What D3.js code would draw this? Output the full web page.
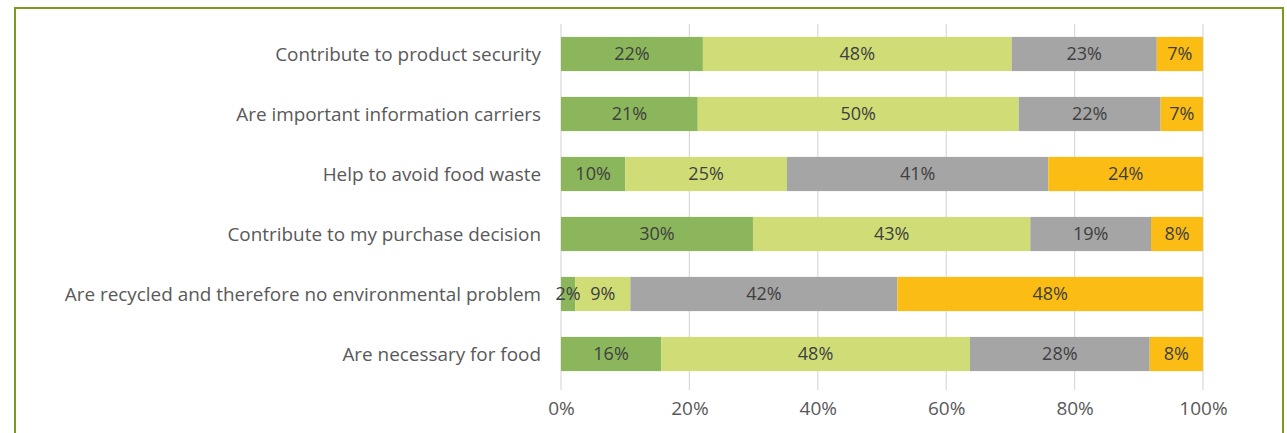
<!DOCTYPE html>
<html><head><meta charset="utf-8">
<script src="https://cdn.jsdelivr.net/npm/d3@7"></script>
<style>html,body{margin:0;padding:0;background:#fff;}svg{display:block;}</style>
</head><body>
<svg id="c" width="1287" height="433"></svg>
<script>
const categories = [
  "Contribute to product security",
  "Are important information carriers",
  "Help to avoid food waste",
  "Contribute to my purchase decision",
  "Are recycled and therefore no environmental problem",
  "Are necessary for food"
];
const seriesNames = ["s1", "s2", "s3", "s4"];
const s1 = [22.1, 21.3, 10.0, 29.9, 2.2, 15.6];
const s2 = [48.1, 50.0, 25.2, 43.2, 8.6, 48.1];
const s3 = [22.6, 22.1, 40.7, 18.8, 41.6, 28.0];
const s4 = [7.2, 6.6, 24.1, 8.1, 47.6, 8.3];
const labels1 = ["22%", "21%", "10%", "30%", "2%", "16%"];
const labels2 = ["48%", "50%", "25%", "43%", "9%", "48%"];
const labels3 = ["23%", "22%", "41%", "19%", "42%", "28%"];
const labels4 = ["7%", "7%", "24%", "8%", "48%", "8%"];
const tickValues = [0, 20, 40, 60, 80, 100];
const tickLabels = ["0%", "20%", "40%", "60%", "80%", "100%"];
const colors = ["#8bb65c", "#d0dd76", "#a5a5a5", "#fbbd14"];

const svg = d3.select("#c");
const font = "'Open Sans', sans-serif";

// border
svg.append("path").attr("d", "M15,434 V8 H1283 V434")
  .attr("fill", "none").attr("stroke", "#7b9a22").attr("stroke-width", 2);

const x = d3.scaleLinear().domain([0, 100]).range([561, 1203]);
const y = d3.scaleBand().domain(categories).range([24, 384]).paddingInner(0.43).paddingOuter(0.215);

// gridlines
svg.append("g").selectAll("line").data(tickValues).join("line")
  .attr("x1", d => x(d)).attr("x2", d => x(d))
  .attr("y1", 24).attr("y2", 390)
  .attr("stroke", "#d9d9d9").attr("stroke-width", 1.2);

const vals = [s1, s2, s3, s4];
const labs = [labels1, labels2, labels3, labels4];
const rows = categories.map((c, i) => {
  let acc = 0;
  return vals.map((v, k) => { const o = {cat: c, k, x0: acc, x1: acc + v[i], label: labs[k][i]}; acc += v[i]; return o; });
});
const segs = rows.flat();

svg.append("g").selectAll("rect").data(segs).join("rect")
  .attr("x", d => x(d.x0)).attr("width", d => x(d.x1) - x(d.x0))
  .attr("y", d => y(d.cat)).attr("height", y.bandwidth())
  .attr("fill", d => colors[d.k]);

svg.append("g").selectAll("text").data(segs).join("text")
  .attr("x", d => (x(d.x0) + x(d.x1)) / 2)
  .attr("y", d => y(d.cat) + y.bandwidth() / 2)
  .attr("dy", "0.35em").attr("text-anchor", "middle")
  .attr("font-family", font).attr("font-size", 18).attr("fill", "#404040")
  .text(d => d.label);

// category axis labels
svg.append("g").selectAll("text").data(categories).join("text")
  .attr("x", 541).attr("y", d => y(d) + y.bandwidth() / 2)
  .attr("dy", "0.35em").attr("text-anchor", "end")
  .attr("font-family", font).attr("font-size", 18.9).attr("fill", "#595959")
  .text(d => d);

// x axis
const ax = svg.append("g").attr("transform", "translate(0,401)")
  .call(d3.axisBottom(x).tickValues(tickValues).tickFormat((d, i) => tickLabels[i]).tickSize(0).tickPadding(0));
ax.select(".domain").remove();
ax.selectAll("text").attr("font-family", font).attr("font-size", 19).attr("fill", "#595959").attr("dy", "0.71em");
</script>
</body></html>
